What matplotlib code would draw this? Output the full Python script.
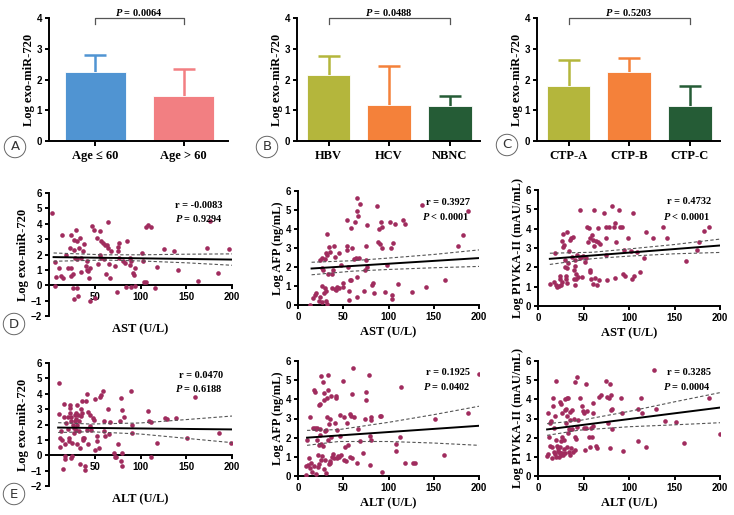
import numpy as np
import matplotlib
matplotlib.use("Agg")
import matplotlib.pyplot as plt

plt.rcParams['mathtext.fontset'] = 'custom'
plt.rcParams['mathtext.it'] = 'Liberation Serif:italic:bold'
plt.rcParams['mathtext.rm'] = 'Liberation Serif:bold'

SERIF = 'Liberation Serif'
SANS = 'Liberation Sans'
DOT = '#A02C5E'

# -------------------------
# Bar data (mean, upper SD)
# -------------------------
age_labels = ['Age ≤ 60', 'Age > 60']
age_mean = [2.25, 1.45]
age_sd = [0.55, 0.90]
age_colors = ['#5094D2', '#F27F82']
age_p = '0.0064'

virus_labels = ['HBV', 'HCV', 'NBNC']
virus_mean = [2.15, 1.18, 1.15]
virus_sd = [0.60, 1.27, 0.32]
virus_p = '0.0488'

ctp_labels = ['CTP-A', 'CTP-B', 'CTP-C']
ctp_mean = [1.78, 2.25, 1.13]
ctp_sd = [0.84, 0.45, 0.65]
ctp_p = '0.5203'

three_colors = ['#B4B63C', '#F4813A', '#255C36']

# -------------------------
# Scatter data: AST row
# -------------------------
ast_mir_x = [3.3, 7, 8, 6.5, 11, 13.5, 14.6, 24.5, 29, 30.7, 27, 33.6, 22.6, 27, 33, 37, 38.7, 19, 28, 30.7,
             35, 41, 40, 41.6, 42.7, 45, 43.8, 35.4, 26.3, 23.7, 21, 24.5, 26.3, 31, 32, 27, 45, 50.7, 15.3, 47.4,
             49, 56, 64.6, 52, 57, 59, 61, 63, 65, 68, 55.5, 57, 53.6, 60, 62, 66.4, 65.7, 72, 75, 76.6,
             75.5, 76.6, 74.5, 84, 81, 83, 84.7, 89, 90, 92, 93, 94, 94.5, 90, 88, 102, 103, 103.6, 106, 106,
             107.7, 111, 116, 118, 125.5, 137, 141, 163, 173, 176, 185, 197]
ast_mir_y = [4.72, 1.52, 0.52, -0.07, 1.1, 0.6, 3.3, 3.3, 3.6, 2.9, 2.95, 3.1, 2.45, 2.3, 2.4, 2.2, 2.7, 2.0, 1.8, 1.7,
             1.8, 1.6, 1.25, 1.0, 0.9, 1.1, 0.5, 0.87, 0.7, 0.63, 1.13, 1.13, -0.2, -0.2, -0.67, -0.87, -1.0, -0.83, 0.5, 3.85,
             3.6, 3.5, 4.1, 3.1, 2.9, 2.75, 2.65, 2.6, 2.45, 2.2, 2.0, 1.8, 1.4, 1.7, 0.7, 0.48, 1.4, 1.28, 2.2, 2.75,
             2.5, 1.8, -0.45, -0.13, 1.6, 1.45, 2.9, 1.3, 1.6, 0.8, 0.65, 1.13, -0.07, -0.13, 1.8, 2.1, 1.6, 0.2, 0.2, 3.8,
             3.95, 3.8, -0.2, 1.17, 2.37, 2.2, 1.0, 0.26, 2.43, 4.17, 0.8, 2.37]
ast_mir_fit_x = [5, 200]
ast_mir_fit_y = [1.83, 1.67]
ast_mir_ci_x = [5, 60, 100, 150, 200]
ast_mir_ci_hi = [2.10, 1.98, 1.98, 2.02, 2.04]
ast_mir_ci_lo = [1.56, 1.64, 1.58, 1.46, 1.30]

ast_afp_x = [13, 16.6, 18.5, 19.6, 23, 24, 26, 27, 28.5, 29.6, 30.7, 31.4, 32, 27.7, 26, 27, 29.6, 32, 30.7, 24,
             32, 34.4, 35, 33, 38, 40, 40.7, 38.8, 38, 40.7, 42.5, 43, 45.5, 45.5, 48, 50, 50, 53.6, 53.6, 54.3,
             55.5, 56.2, 56.6, 58.4, 60, 57.3, 59, 61.7, 62.8, 64, 64.7, 64.7, 65.4, 66.5, 67.3, 68.4, 65.4, 72.8, 74, 74.7,
             75, 75.8, 75.8, 81.3, 83, 84, 86.9, 88.7, 89.8, 90.6, 91.7, 92.4, 93.2, 96, 98, 101.7, 102.4, 103.5, 104.2, 105.4,
             107, 111, 116.5, 118.3, 125.7, 141.6, 136.8, 162.7, 176.3, 181.9, 188.2]
ast_afp_y = [0.0, 0.37, 0.54, 0.63, 0.2, 0.42, 0.98, 0.14, 0.63, 0.9, 0.72, 0.2, 0.07, 1.85, 1.94, 2.5, 2.4, 2.63, 2.72, 2.37,
             3.73, 3.07, 2.8, 1.64, 1.62, 3.1, 2.55, 1.85, 0.9, 0.84, 0.77, 0.94, 0.9, 2.72, 2.1, 0.94, 1.15, 3.1, 2.9, 4.5,
             2.02, 0.72, 0.24, 4.03, 2.98, 1.33, 1.33, 2.4, 4.38, 2.46, 5.65, 4.94, 1.5, 4.67, 2.46, 5.3, 0.42, 0.72, 1.85, 3.1,
             2.37, 4.2, 2.02, 1.06, 1.15, 0.63, 5.22, 3.33, 3.98, 3.2, 4.38, 4.12, 2.98, 0.66, 2.1, 4.38, 2.98, 0.31, 0.54, 3.28,
             4.24, 1.12, 4.5, 4.26, 0.66, 0.94, 5.28, 1.33, 3.1, 3.68, 4.95]
ast_afp_fit_x = [15, 200]
ast_afp_fit_y = [1.92, 2.47]
ast_afp_ci_x = [15, 60, 100, 150, 200]
ast_afp_ci_hi = [2.25, 2.33, 2.47, 2.66, 2.90]
ast_afp_ci_lo = [1.59, 1.78, 1.87, 1.96, 2.03]

ast_pivka_x = [13.6, 17.2, 18.3, 19.4, 21, 23, 24, 24.6, 25.7, 26.4, 26.8, 27.5, 27.5, 28.3, 29.4, 29.4, 30.5, 31.2, 32, 32,
               32.3, 33, 34, 35, 36.7, 37.4, 38.5, 39.3, 39.6, 40.4, 40.4, 41.1, 41.5, 42.2, 43, 44, 45.9, 45.9, 47, 48.4,
               49.5, 51.4, 52.5, 54.3, 55, 55.8, 56.9, 56.9, 57.6, 58.7, 59.4, 60.6, 60.6, 61.3, 62, 62.4, 64.2, 65.3, 66, 66,
               66.8, 68.6, 72.7, 74.5, 75.2, 75.2, 76, 77.8, 83.3, 84.4, 85.1, 86.2, 89.2, 90.6, 92.8, 93.6, 94.3, 96.1, 99, 101.7,
               102.8, 105.3, 104.6, 108.3, 112, 116.7, 118.5, 125.9, 137.6, 142, 162.6, 174.3, 176.9, 182.4, 187.5, 81.8]
ast_pivka_y = [1.16, 1.25, 2.75, 1.07, 0.99, 1.02, 1.42, 1.54, 1.07, 3.35, 1.25, 3.72, 3.03, 3.15, 2.4, 2.02, 1.54, 1.42, 1.21, 3.84,
               1.94, 2.23, 2.85, 3.4, 3.5, 2.54, 3.58, 1.85, 1.42, 2.4, 1.07, 2.06, 1.64, 1.42, 2.63, 1.5, 4.96, 2.5, 2.54, 1.5,
               2.58, 2.28, 2.46, 4.1, 3.32, 4.06, 3.5, 1.76, 1.88, 1.42, 3.67, 3.4, 1.12, 4.96, 3.1, 1.47, 3.35, 1.07, 3.29, 4.06,
               1.37, 3.2, 4.79, 3.5, 4.1, 2.63, 1.37, 4.1, 4.1, 4.27, 1.47, 3.32, 4.96, 4.1, 4.1, 1.64, 2.89, 1.54, 3.5, 2.84,
               1.42, 1.54, 4.79, 2.8, 1.76, 2.5, 3.84, 3.5, 4.1, 3.5, 2.33, 2.89, 3.32, 3.87, 4.1, 5.19]
ast_pivka_fit_x = [13, 200]
ast_pivka_fit_y = [2.44, 3.13]
ast_pivka_ci_x = [13, 60, 100, 150, 200]
ast_pivka_ci_hi = [2.73, 2.78, 2.95, 3.18, 3.46]
ast_pivka_ci_lo = [2.15, 2.45, 2.58, 2.70, 2.77]

# -------------------------
# Scatter data: ALT row
# -------------------------
alt_mir_x = [10.6, 11, 11.7, 11.7, 13.5, 14.6, 15.3, 16.4, 17, 17.5, 16, 17.9, 19, 21, 21, 21.5, 21.5, 22.6, 22.6, 23.4,
             23.7, 24.5, 24.5, 25, 25.5, 26.3, 27, 27, 28, 28, 29.2, 30, 30, 30.7, 30.7, 31, 31.8, 32.5, 32.8, 33.6,
             34.3, 35.4, 35.4, 36, 36.5, 37.2, 37.2, 38, 39, 39, 40, 41.6, 42, 42.7, 42.7, 44.5, 45.2, 46.4, 48, 49.3,
             50, 50.7, 52.5, 53, 54.7, 56.2, 57.3, 59, 59.8, 59.8, 61, 64.6, 65.7, 67, 71, 72, 73.7, 75.5, 77.4, 78.5,
             79, 80, 80, 80.3, 81.8, 91, 91, 90, 108.4, 109.5, 112, 112, 117.5, 126.6, 128.5, 138.7, 150.4, 159.5, 186, 198.5]
alt_mir_y = [4.72, 2.7, 1.13, 0.52, 1.57, 1.02, -0.87, 3.35, -0.07, -0.22, 2.48, 0.7, 2.1, 2.48, 1.72, 0.91, 1.13, 3.3, 3.09, 2.76,
             2.48, 2.22, -0.17, -0.07, 0.8, 2.0, 1.74, 1.46, 2.26, 2.6, 2.76, 2.39, 1.67, 3.26, 2.0, 0.74, 2.6, 2.22, 1.57, 0.48,
             -0.57, 2.98, 2.54, 2.76, 3.52, 1.02, 1.13, 1.13, -0.72, -0.93, 3.52, 4.0, 1.61, 2.83, 0.7, 1.89, 2.65, 1.67, 2.43, 2.28,
             3.63, 0.37, 1.24, 0.91, 0.48, 3.78, 3.91, 4.17, 2.22, 1.57, 1.24, 2.98, 1.39, 2.17, 0.15, -0.13, -0.13, 0.7, 2.22, 3.7,
             -0.39, -0.72, 0.15, 2.93, 2.48, 2.0, 1.46, 4.17, 2.87, 2.22, 2.15, -0.13, 0.8, 2.43, 2.37, 2.43, 1.13, 3.78, 1.46, 0.8]
alt_mir_fit_x = [10, 200]
alt_mir_fit_y = [1.80, 1.68]
alt_mir_ci_x = [10, 45, 100, 150, 200]
alt_mir_ci_hi = [2.12, 2.03, 2.10, 2.32, 2.55]
alt_mir_ci_lo = [1.48, 1.53, 1.38, 1.10, 0.82]

alt_afp_x = [9.2, 9.2, 10.3, 11, 12.2, 13, 13.6, 14.7, 15.8, 16.6, 17.3, 17.3, 18.4, 19, 19.5, 20.3, 21, 21.4, 22, 22,
             22.8, 22.8, 23.2, 24, 24, 24.7, 25, 25.8, 25.8, 26.5, 27.6, 27.6, 28.4, 28.7, 28.7, 29.5, 29.5, 30.6, 31.3, 32,
             32.4, 33.1, 33.1, 33.1, 33.9, 34.3, 35, 35.7, 35.7, 36.8, 36.8, 37.6, 38.7, 39.8, 40.5, 42.4, 42.4, 43, 43, 44,
             45.3, 46, 46, 47.9, 49.7, 50.5, 50.5, 51.6, 53.4, 54.1, 55.2, 57, 57.8, 59, 59.7, 60, 60.8, 61.5, 65.2, 66.3,
             68.1, 71.8, 73.7, 74.8, 75.5, 78.5, 79.2, 79.9, 80.3, 80.3, 81, 90.2, 92, 93.2, 108.7, 108.7, 112.3, 113.4, 118.6, 127,
             129.7, 151.7, 161, 187.8, 200]
alt_afp_y = [0.05, 0.52, 1.87, 0.57, 0.92, 0.4, 3.09, 0.66, 0.23, 2.53, 4.5, 0.52, 2.53, 4.39, 2.43, 0.1, 1.87, 2.48, 1.09, 0.45,
             1.61, 0.62, 3.69, 3.75, 2.43, 2.13, 0.83, 5.2, 1.66, 1.04, 4.9, 1.56, 0.35, 4.33, 3.95, 0.83, 2.36, 2.39, 0.17, 4.09,
             3.09, 5.25, 4.47, 1.9, 2.7, 0.62, 0.66, 0.8, 2.95, 4.16, 2.05, 1.0, 1.14, 0.92, 2.74, 4.16, 4.09, 2.39, 0.92, 1.04,
             1.0, 3.17, 2.08, 1.09, 4.96, 0.83, 3.09, 1.49, 0.8, 2.77, 1.61, 3.26, 0.97, 3.12, 0.92, 4.27, 5.65, 3.09, 0.66, 2.43,
             1.84, 1.18, 2.95, 3.95, 4.39, 5.25, 0.57, 2.08, 3.09, 2.91, 1.9, 3.12, 3.12, 0.23, 1.66, 1.32, 2.05, 4.65, 0.66, 0.69,
             0.66, 3.0, 1.09, 3.29, 5.3]
alt_afp_fit_x = [10, 200]
alt_afp_fit_y = [2.00, 2.62]
alt_afp_ci_x = [10, 45, 100, 150, 200]
alt_afp_ci_hi = [2.38, 2.42, 2.80, 3.20, 3.64]
alt_afp_ci_lo = [1.60, 1.80, 1.80, 1.72, 1.60]

alt_pivka_x = [10.3, 11, 11, 12.1, 12.8, 13.6, 14.7, 15.4, 15.8, 16.5, 16.5, 17.2, 17.6, 18.3, 19, 19.5, 20.2, 20.2, 20.9, 21.7,
               22, 22.8, 23.1, 23.9, 23.9, 24.6, 24.9, 24.9, 25.7, 26, 26.8, 26.8, 27.5, 28.3, 28.3, 29.4, 29.4, 30.1, 30.5, 31.2,
               31.9, 31.9, 32.3, 33, 33, 33.8, 34.1, 34.9, 34.9, 35.6, 36.7, 37.4, 37.8, 38.5, 39.3, 40.4, 40.4, 41.1, 42.2, 42.9,
               43.3, 44, 46.6, 48.8, 49.5, 50.3, 50.6, 51.4, 52.5, 53.2, 53.9, 56.1, 56.9, 58.7, 59.8, 60.6, 60.6, 60.6, 63.5, 64.9,
               67.2, 69.7, 74.5, 76.3, 77.1, 78.2, 78.9, 79.6, 80, 80.7, 81.5, 81.8, 91.7, 92.8, 93.6, 109.4, 110, 113, 113.8, 118.5,
               127.3, 129.5, 139.4, 151.6, 160.4, 187.5, 200]
alt_pivka_y = [1.06, 1.14, 3.29, 2.05, 1.56, 2.77, 2.88, 1.49, 0.92, 4.09, 3.64, 1.27, 2.48, 3.12, 1.14, 1.0, 4.96, 1.9, 1.56, 1.44,
               1.32, 1.27, 0.97, 3.87, 1.21, 1.49, 3.78, 1.09, 1.84, 1.18, 2.01, 3.29, 1.09, 1.87, 1.39, 4.04, 3.43, 1.18, 2.74, 3.52,
               4.09, 3.12, 1.49, 4.09, 2.25, 2.43, 1.27, 3.35, 1.09, 2.91, 1.44, 2.43, 3.43, 1.27, 2.95, 1.35, 4.9, 2.05, 1.94, 5.17,
               2.57, 2.91, 4.09, 3.64, 3.38, 3.29, 2.48, 1.35, 2.53, 4.82, 3.38, 2.05, 1.49, 2.48, 2.05, 3.8, 3.29, 2.6, 1.56, 1.44,
               4.11, 4.25, 4.96, 4.11, 2.74, 4.09, 1.44, 4.79, 3.43, 4.21, 2.43, 3.52, 4.09, 3.29, 1.32, 1.84, 3.52, 4.09, 3.29, 1.53,
               5.51, 3.47, 2.86, 2.83, 1.73, 4.09, 2.17]
alt_pivka_fit_x = [10, 200]
alt_pivka_fit_y = [2.43, 3.57]
alt_pivka_ci_x = [10, 45, 100, 150, 200]
alt_pivka_ci_hi = [2.73, 2.89, 3.37, 3.87, 4.35]
alt_pivka_ci_lo = [2.12, 2.39, 2.57, 2.67, 2.78]

stats = {
    'ast_mir': ('-0.0083', r'$P$ = 0.9294'),
    'ast_afp': ('0.3927', r'$P$ < 0.0001'),
    'ast_pivka': ('0.4732', r'$P$ < 0.0001'),
    'alt_mir': ('0.0470', r'$P$ = 0.6188'),
    'alt_afp': ('0.1925', r'$P$ = 0.0402'),
    'alt_pivka': ('0.3285', r'$P$ = 0.0004'),
}


def px_rect(left, right, top, bottom, W=734, H=515):
    return [left / W, 1 - bottom / H, (right - left) / W, (bottom - top) / H]


def style_ticks(ax):
    for lab in ax.get_xticklabels() + ax.get_yticklabels():
        lab.set_fontfamily(SANS)
        lab.set_fontweight('bold')
        lab.set_fontsize(7)
    for s in ['top', 'right']:
        ax.spines[s].set_visible(False)
    for s in ['left', 'bottom']:
        ax.spines[s].set_linewidth(1.4)
    ax.tick_params(width=1.4, length=3, pad=2)


def bar_panel(ax, labels, means, sds, colors, ptext, width):
    pos = np.arange(len(labels))
    for i in pos:
        # upper error bar only: vertical stem + cap
        _, caps, _ = ax.errorbar(pos[i], means[i] + sds[i] / 2, yerr=sds[i] / 2, fmt='none',
                                 ecolor=colors[i], elinewidth=1.8, capsize=8, capthick=1.8, zorder=1)
        caps[0].set_visible(False)
    ax.bar(pos, means, width=width, color=colors, edgecolor='white', linewidth=0.6, zorder=2)
    ax.set_ylim(0, 4)
    ax.set_yticks([0, 1, 2, 3, 4])
    ax.set_xlim(-0.52, len(labels) - 0.5)
    ax.set_xticks(pos)
    ax.set_xticklabels(labels)
    ax.set_ylabel('Log exo-miR-720', family=SERIF, weight='bold', fontsize=9, labelpad=1)
    style_ticks(ax)
    for lab in ax.get_xticklabels():
        lab.set_fontfamily(SERIF)
        lab.set_fontsize(9)
    ax.tick_params(axis='x', direction='inout', length=7, pad=3)
    ax.plot([0, 0, pos[-1], pos[-1]], [3.8, 4.0, 4.0, 3.8], color='#555555', lw=0.9, clip_on=False)
    ax.text(pos[-1] / 2, 4.18, r'$P$ = ' + ptext, ha='center', va='center',
            family=SERIF, weight='bold', fontsize=7.5)


def scatter_panel(ax, x, y, fit_x, fit_y, ci_x, ci_hi, ci_lo, ylabel, xlabel, key, left):
    ax.scatter(x, y, s=11, color=DOT, linewidths=0, zorder=3)
    ax.plot(fit_x, fit_y, color='black', lw=1.4, zorder=4)
    ax.plot(ci_x, ci_hi, color='#555555', lw=0.8, ls=(0, (3, 2)), zorder=4)
    ax.plot(ci_x, ci_lo, color='#555555', lw=0.8, ls=(0, (3, 2)), zorder=4)
    ax.set_xlim(0, 200)
    if left:
        ax.set_ylim(-2, 6)
        ax.set_yticks(range(-2, 7))
        ax.set_xticks([50, 100, 150, 200])
        ax.spines['bottom'].set_position(('data', 0))
    else:
        ax.set_ylim(0, 6)
        ax.set_yticks(range(0, 7))
        ax.set_xticks([0, 50, 100, 150, 200])
    ax.set_ylabel(ylabel, family=SERIF, weight='bold', fontsize=9, labelpad=1)
    ax.set_xlabel(xlabel, family=SERIF, weight='bold', fontsize=9, labelpad=3)
    if left:
        ax.xaxis.set_label_coords(0.5, -0.06)
    style_ticks(ax)
    r, p = stats[key]
    ax.text(0.95, 0.90, 'r = ' + r, transform=ax.transAxes, ha='right', va='center',
            family=SERIF, weight='bold', fontsize=7.5, zorder=5)
    ax.text(0.95, 0.79 if left else 0.775, p, transform=ax.transAxes, ha='right', va='center',
            family=SERIF, weight='bold', fontsize=7.5, zorder=5)


fig = plt.figure(figsize=(7.34, 5.15), dpi=100)

axA = fig.add_axes(px_rect(49, 228, 18, 141))
bar_panel(axA, age_labels, age_mean, age_sd, age_colors, age_p, 0.69)
axB = fig.add_axes(px_rect(297, 480, 18, 141))
bar_panel(axB, virus_labels, virus_mean, virus_sd, three_colors, virus_p, 0.72)
axC = fig.add_axes(px_rect(537, 720, 18, 141))
bar_panel(axC, ctp_labels, ctp_mean, ctp_sd, three_colors, ctp_p, 0.72)

ax = fig.add_axes(px_rect(49, 232, 193, 316))
scatter_panel(ax, ast_mir_x, ast_mir_y, ast_mir_fit_x, ast_mir_fit_y, ast_mir_ci_x, ast_mir_ci_hi,
              ast_mir_ci_lo, 'Log exo-miR-720', 'AST (U/L)', 'ast_mir', True)
ax = fig.add_axes(px_rect(298, 479, 191, 305))
scatter_panel(ax, ast_afp_x, ast_afp_y, ast_afp_fit_x, ast_afp_fit_y, ast_afp_ci_x, ast_afp_ci_hi,
              ast_afp_ci_lo, 'Log AFP (ng/mL)', 'AST (U/L)', 'ast_afp', False)
ax = fig.add_axes(px_rect(538, 720, 190, 306))
scatter_panel(ax, ast_pivka_x, ast_pivka_y, ast_pivka_fit_x, ast_pivka_fit_y, ast_pivka_ci_x, ast_pivka_ci_hi,
              ast_pivka_ci_lo, 'Log PIVKA-II (mAU/mL)', 'AST (U/L)', 'ast_pivka', False)

ax = fig.add_axes(px_rect(49, 232, 363, 486))
scatter_panel(ax, alt_mir_x, alt_mir_y, alt_mir_fit_x, alt_mir_fit_y, alt_mir_ci_x, alt_mir_ci_hi,
              alt_mir_ci_lo, 'Log exo-miR-720', 'ALT (U/L)', 'alt_mir', True)
ax = fig.add_axes(px_rect(298, 479, 361, 476))
scatter_panel(ax, alt_afp_x, alt_afp_y, alt_afp_fit_x, alt_afp_fit_y, alt_afp_ci_x, alt_afp_ci_hi,
              alt_afp_ci_lo, 'Log AFP (ng/mL)', 'ALT (U/L)', 'alt_afp', False)
ax = fig.add_axes(px_rect(538, 720, 361, 476))
scatter_panel(ax, alt_pivka_x, alt_pivka_y, alt_pivka_fit_x, alt_pivka_fit_y, alt_pivka_ci_x, alt_pivka_ci_hi,
              alt_pivka_ci_lo, 'Log PIVKA-II (mAU/mL)', 'ALT (U/L)', 'alt_pivka', False)

# circled panel letters
for letter, (px, py) in zip('ABCDE', [(15, 147), (267, 147), (507, 145), (14, 324), (14, 494)]):
    fig.text(px / 734, 1 - py / 515, letter, ha='center', va='center', fontsize=9.5, family='DejaVu Sans',
             color='#333333',
             bbox=dict(boxstyle='circle,pad=0.32', fc='white', ec='#666666', lw=0.7))

fig.savefig('out.png', dpi=100)
